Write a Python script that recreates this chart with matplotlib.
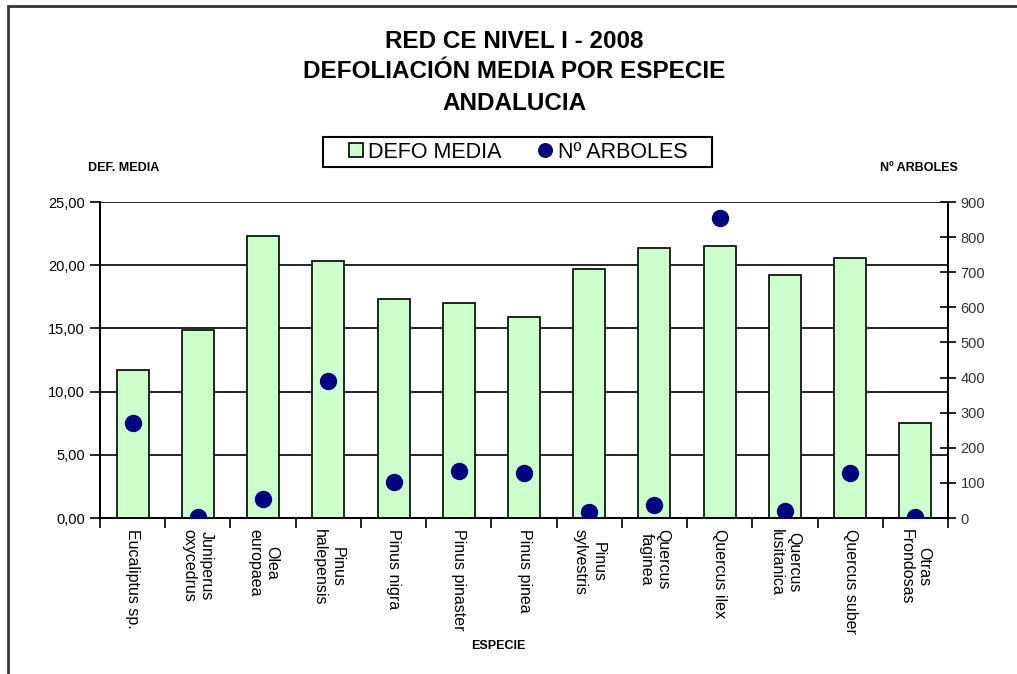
import numpy as np
import matplotlib
matplotlib.use('Agg')
import matplotlib.pyplot as plt
from matplotlib.ticker import FuncFormatter, MultipleLocator
from matplotlib.patches import Rectangle

plt.rcParams['font.family'] = ['Liberation Sans', 'DejaVu Sans']

# datos
especies = ['Eucaliptus sp.', 'Juniperus\noxycedrus', 'Olea\neuropaea', 'Pinus\nhalepensis',
            'Pinus nigra', 'Pinus pinaster', 'Pinus pinea', 'Pinus\nsylvestris',
            'Quercus\nfaginea', 'Quercus ilex', 'Quercus\nlusitanica', 'Quercus suber',
            'Otras\nFrondosas']
defo_media = [11.7, 14.9, 22.3, 20.3, 17.3, 17.0, 15.9, 19.7, 21.4, 21.5, 19.2, 20.6, 7.5]
n_arboles = [270, 2, 54, 390, 102, 134, 128, 17, 37, 855, 20, 128, 2]

W, H = 1017, 674
fig = plt.figure(figsize=(W / 100, H / 100), dpi=100)
ax = fig.add_axes([100 / W, 1 - 518 / H, 848 / W, 316 / H])
ax2 = ax.twinx()

x = np.arange(len(especies))
ax.bar(x, defo_media, width=0.49, color='#CCFFCC', edgecolor='black', linewidth=1.2,
       zorder=3, label='DEFO MEDIA')
ax2.plot(x, n_arboles, linestyle='none', marker='o', markersize=11.5, color='#000080',
         zorder=4, label='Nº ARBOLES')

ax.set_xlim(-0.5, len(especies) - 0.5)
ax.set_ylim(0, 25)
ax2.set_ylim(0, 900)
ax.yaxis.set_major_locator(MultipleLocator(5))
ax2.yaxis.set_major_locator(MultipleLocator(100))
ax.yaxis.set_major_formatter(FuncFormatter(lambda v, p: f'{v:.2f}'.replace('.', ',')))
ax.grid(axis='y', color='black', linewidth=1.2, zorder=0)
ax.set_axisbelow(True)

for a in (ax, ax2):
    a.spines['top'].set_visible(False)
    for s in ('left', 'right', 'bottom'):
        a.spines[s].set_linewidth(1.3)

# marcas del eje x entre categorias
ax.set_xticks(np.arange(-0.5, len(especies), 1.0))
ax.set_xticklabels([])
ax.tick_params(axis='x', direction='out', length=7, width=1.2)
ax.set_xticks(x, minor=True)
ax.set_xticklabels(especies, minor=True, rotation=270, ha='center', va='top',
                   multialignment='center', fontsize=11.5)
ax.tick_params(axis='x', which='minor', length=0, pad=8)

ax.tick_params(axis='y', direction='out', length=7, width=1.2, labelsize=10.5, pad=4)
ax2.tick_params(axis='y', direction='inout', length=12, width=1.2, labelsize=10.5,
                labelcolor='#333333', pad=3)

# titulos
fig.text(0.506, 1 - 42 / H, 'RED CE NIVEL I - 2008', ha='center', va='center',
         fontsize=17.5, fontweight='bold')
fig.text(0.506, 1 - 72 / H, 'DEFOLIACIÓN MEDIA POR ESPECIE', ha='center', va='center',
         fontsize=17.5, fontweight='bold')
fig.text(0.506, 1 - 103 / H, 'ANDALUCIA', ha='center', va='center',
         fontsize=17.5, fontweight='bold')
fig.text(124 / W, 1 - 168 / H, 'DEF. MEDIA', ha='center', va='center', fontsize=9,
         fontweight='bold')
fig.text(919 / W, 1 - 168 / H, 'Nº ARBOLES', ha='center', va='center', fontsize=9,
         fontweight='bold')
fig.text(498 / W, 1 - 646 / H, 'ESPECIE', ha='center', va='center', fontsize=9,
         fontweight='bold')

# leyenda (el marco se dibuja aparte)
h1, l1 = ax.get_legend_handles_labels()
h2, l2 = ax2.get_legend_handles_labels()
leg = fig.legend(h1 + h2, l1 + l2, loc='center', bbox_to_anchor=(518 / W, 1 - 152 / H),
                 ncol=2, fontsize=15.5, frameon=False, handlelength=0.65,
                 handleheight=0.65, handletextpad=0.25, columnspacing=1.7, borderpad=0.25,
                 markerscale=0.85)
fig.patches.append(Rectangle((323 / W, 1 - 167 / H), 389 / W, 30 / H,
                             transform=fig.transFigure, fill=False, edgecolor='black',
                             linewidth=1.5))

# marco exterior
fig.patches.append(Rectangle((8 / W, -0.05), 1.1, 1 - 6 / H + 0.05, transform=fig.transFigure,
                             fill=False, edgecolor='#333333', linewidth=2))

fig.savefig('out.png', dpi=100)
